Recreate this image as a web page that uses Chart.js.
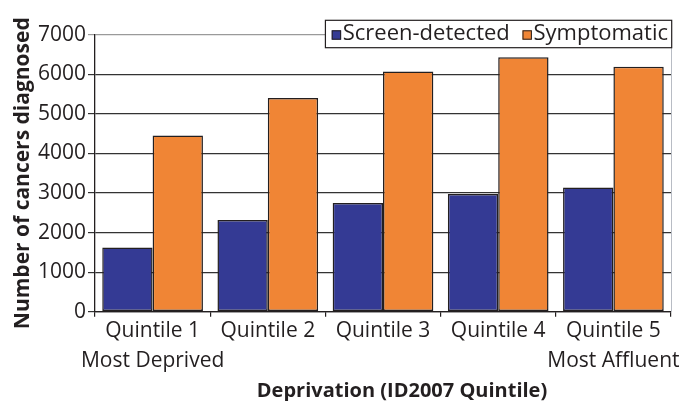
<!DOCTYPE html>
<html>
<head>
<meta charset="utf-8">
<script src="https://cdn.jsdelivr.net/npm/chart.js@4"></script>
<style>
html,body{margin:0;padding:0;background:#fff;}
canvas{display:block;}
</style>
</head>
<body>
<canvas id="c" width="692" height="401"></canvas>
<script>
const categories = [['Quintile 1','Most Deprived'], ['Quintile 2'], ['Quintile 3'], ['Quintile 4'], ['Quintile 5','Most Affluent']];
const seriesNames = ['Screen-detected', 'Symptomatic'];
const screenDetected = [1620, 2320, 2750, 2975, 3140];
const symptomatic = [4450, 5400, 6070, 6430, 6190];
const yMin = 0, yMax = 7000, yStep = 1000;
const xTitle = 'Deprivation (ID2007 Quintile)';
const yTitle = 'Number of cancers diagnosed';

const INK = '#231f20';
const FONT = '"Open Sans", sans-serif';

const customLegend = {
  id: 'customLegend',
  afterDraw(chart) {
    const ctx = chart.ctx, a = chart.chartArea;
    ctx.save();
    // light right border of plot area
    ctx.strokeStyle = '#b8bcc4';
    ctx.lineWidth = 1;
    ctx.beginPath();
    ctx.moveTo(a.right + 0.5, a.top);
    ctx.lineTo(a.right + 0.5, a.bottom);
    ctx.stroke();

    // x-axis title
    ctx.fillStyle = INK;
    ctx.font = 'bold 20px ' + FONT;
    ctx.textAlign = 'center';
    ctx.textBaseline = 'alphabetic';
    ctx.fillText(xTitle, (a.left + a.right) / 2 + 19, 397);

    // legend
    ctx.font = '22px ' + FONT;
    const padL = 6.3, sq = 9.4, gapT = 1.6, gapI = 12.7, padR = 3.7;
    const items = chart.data.datasets.map(d => ({label: d.label, color: d.backgroundColor, w: ctx.measureText(d.label).width}));
    let total = padL + padR;
    items.forEach((it, i) => { total += sq + gapT + it.w + (i < items.length - 1 ? gapI : 0); });
    const bx = a.right + 0.7 - total, by = a.top - 14.4, bh = 27.4;
    ctx.fillStyle = '#fff';
    ctx.fillRect(bx, by, total, bh);
    ctx.strokeStyle = INK;
    ctx.lineWidth = 1.2;
    ctx.strokeRect(bx, by, total, bh);
    let x = bx + padL;
    ctx.textAlign = 'left';
    items.forEach((it) => {
      ctx.fillStyle = it.color;
      ctx.fillRect(x, by + 10, sq, sq);
      ctx.lineWidth = 1;
      ctx.strokeStyle = INK;
      ctx.strokeRect(x + 0.5, by + 10.5, sq - 1, sq - 1);
      x += sq + gapT;
      ctx.fillStyle = INK;
      ctx.fillText(it.label, x, by + 20);
      x += it.w + gapI;
    });
    ctx.restore();
  }
};

new Chart(document.getElementById('c'), {
  type: 'bar',
  data: {
    labels: categories,
    datasets: [
      {label: seriesNames[0], data: screenDetected, backgroundColor: '#343a94', borderColor: INK, borderWidth: 1.5, borderSkipped: false},
      {label: seriesNames[1], data: symptomatic, backgroundColor: '#f08535', borderColor: INK, borderWidth: 1.5, borderSkipped: false}
    ]
  },
  options: {
    responsive: false,
    animation: false,
    devicePixelRatio: 1,
    layout: {padding: {top: 34.7, right: 21, left: 0, bottom: 0}},
    datasets: {bar: {barPercentage: 1.0, categoryPercentage: 0.874}},
    plugins: {legend: {display: false}, tooltip: {enabled: false}},
    scales: {
      x: {
        afterFit(s) { s.height = 89.3; },
        grid: {display: true, drawOnChartArea: false, drawTicks: true, tickLength: 5, offset: true, color: INK, lineWidth: 1.2},
        border: {display: true, color: INK, width: 1.3},
        ticks: {color: INK, font: {family: FONT, size: 21, lineHeight: 1.4}, padding: 0, maxRotation: 0, autoSkip: false}
      },
      y: {
        min: yMin, max: yMax,
        afterFit(s) { s.width = 95; },
        grid: {drawTicks: true, tickLength: 7, color: ctx => (ctx.tick && ctx.tick.value === yMax ? '#9a9a9a' : '#333'), lineWidth: 1.2},
        border: {display: true, color: INK, width: 1.3},
        ticks: {stepSize: yStep, color: INK, font: {family: FONT, size: 21}, padding: 2, callback: v => String(v)},
        title: {display: true, text: yTitle, color: INK, font: {family: FONT, size: 21, weight: 'bold'}, padding: {top: 10, bottom: 0}}
      }
    }
  },
  plugins: [customLegend]
});
</script>
</body>
</html>
